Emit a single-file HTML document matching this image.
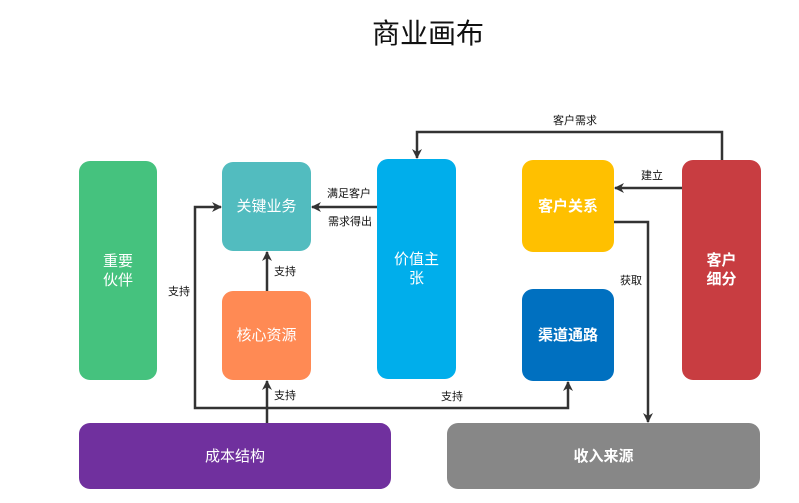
<!DOCTYPE html>
<html><head><meta charset="utf-8"><style>
body{margin:0;width:799px;height:503px;background:#fff;position:relative;overflow:hidden;font-family:"Liberation Sans","Noto Sans CJK SC",sans-serif}
.b{position:absolute;display:flex;align-items:center;justify-content:center;text-align:center;color:#fff;font-size:15px;border-radius:11px;line-height:19px}
.l{position:absolute;font-size:11px;color:#111;white-space:nowrap}
</style></head><body>
<div style="position:absolute;left:0;width:856px;top:12px;text-align:center;font-size:28px;color:#111">商业画布</div>
<svg width="799" height="503" style="position:absolute;left:0;top:0">
<defs><marker id="a" markerWidth="10" markerHeight="10" refX="9" refY="5" orient="auto" markerUnits="userSpaceOnUse"><path d="M0,0 L10,5 L0,10 L3,5z" fill="#333"/></marker></defs>
<g stroke="#333" stroke-width="2.5" fill="none">
<polyline points="722,160 722,132 417,132 417,158" marker-end="url(#a)"/>
<polyline points="682,188 615,188" marker-end="url(#a)"/>
<polyline points="614,222 648,222 648,422" marker-end="url(#a)"/>
<polyline points="377,207 312,207" marker-end="url(#a)"/>
<polyline points="267,291 267,252" marker-end="url(#a)"/>
<polyline points="267,423 267,381" marker-end="url(#a)"/>
<polyline points="267,408 195,408 195,207 221,207" marker-end="url(#a)"/>
<polyline points="267,408 568,408 568,382" marker-end="url(#a)"/>
</g></svg>
<div class="b" style="left:79px;top:161px;width:78px;height:219px;background:#45c27e">重要<br>伙伴</div>
<div class="b" style="left:222px;top:162px;width:89px;height:89px;background:#52bcbf">关键业务</div>
<div class="b" style="left:222px;top:291px;width:89px;height:89px;background:#ff8a54">核心资源</div>
<div class="b" style="left:377px;top:159px;width:79px;height:220px;background:#00aeeb">价值主<br>张</div>
<div class="b" style="left:522px;top:160px;width:92px;height:92px;background:#ffc000;font-weight:bold">客户关系</div>
<div class="b" style="left:522px;top:289px;width:92px;height:92px;background:#0070c0;font-weight:bold">渠道通路</div>
<div class="b" style="left:682px;top:160px;width:79px;height:220px;background:#c83d41;font-weight:bold">客户<br>细分</div>
<div class="b" style="left:79px;top:423px;width:312px;height:66px;background:#70309e">成本结构</div>
<div class="b" style="left:447px;top:423px;width:313px;height:66px;background:#878787;font-weight:bold">收入来源</div>
<div class="l" style="left:168px;top:283px">支持</div>
<div class="l" style="left:274px;top:263px">支持</div>
<div class="l" style="left:274px;top:387px">支持</div>
<div class="l" style="left:441px;top:388px">支持</div>
<div class="l" style="left:327px;top:185px">满足客户</div>
<div class="l" style="left:328px;top:213px">需求得出</div>
<div class="l" style="left:553px;top:112px">客户需求</div>
<div class="l" style="left:641px;top:167px">建立</div>
<div class="l" style="left:620px;top:272px">获取</div>
</body></html>
